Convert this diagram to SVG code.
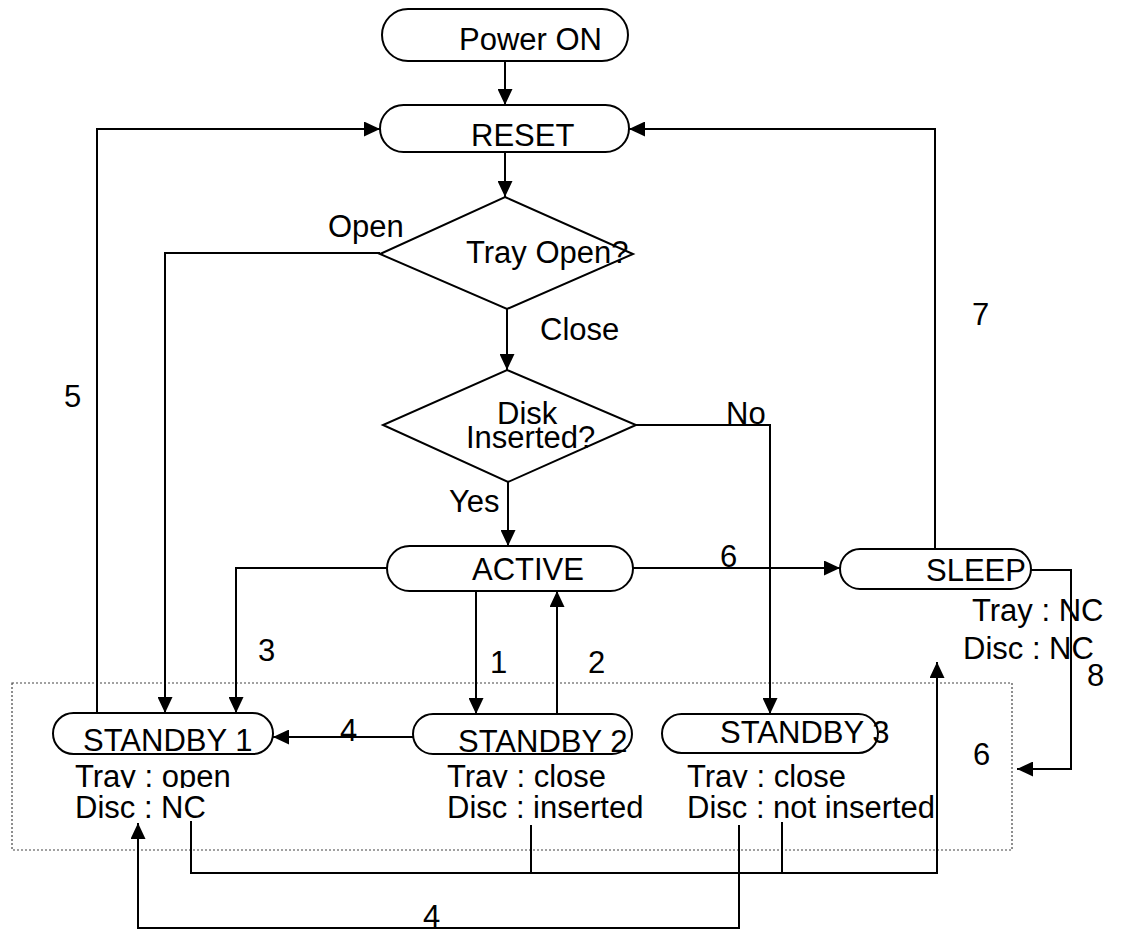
<svg xmlns="http://www.w3.org/2000/svg" width="1121" height="931" viewBox="0 0 1121 931">
<style>
.shape{fill:#fff;stroke:#000;stroke-width:2}
.c{fill:none;stroke:#000;stroke-width:2}
text{font-family:"Liberation Sans",Arial,sans-serif;font-size:31px;fill:#000}
.dot{fill:none;stroke:#444;stroke-width:1.2;stroke-dasharray:2,2}
</style>
<defs>
<marker id="ah" markerUnits="userSpaceOnUse" markerWidth="16" markerHeight="15" refX="16" refY="7.5" orient="auto">
<path d="M0,0 L16,7.5 L0,15 z" fill="#000"/>
</marker>
<clipPath id="cl"><rect x="0" y="0" width="1121" height="788"/></clipPath>
</defs>
<rect class="dot" x="12" y="683" width="1000" height="167"/>
<g id="connectors">
<path class="c" d="M505,61 V105" marker-end="url(#ah)"/>
<path class="c" d="M505,152 V197" marker-end="url(#ah)"/>
<path class="c" d="M380,253 H165 V713" marker-end="url(#ah)"/>
<path class="c" d="M507,309 V370" marker-end="url(#ah)"/>
<path class="c" d="M636,425 H770 V714" marker-end="url(#ah)"/>
<path class="c" d="M508,482 V546" marker-end="url(#ah)"/>
<path class="c" d="M387,568 H236 V713" marker-end="url(#ah)"/>
<path class="c" d="M633,568 H840" marker-end="url(#ah)"/>
<path class="c" d="M476,591 V714" marker-end="url(#ah)"/>
<path class="c" d="M557,714 V591" marker-end="url(#ah)"/>
<path class="c" d="M413,737 H273" marker-end="url(#ah)"/>
<path class="c" d="M97,713 V129 H380" marker-end="url(#ah)"/>
<path class="c" d="M935,549 V129 H629" marker-end="url(#ah)"/>
<path class="c" d="M1031,570 H1071 V769 H1017" marker-end="url(#ah)"/>
<path class="c" d="M191,821 V873 H937 V662" marker-end="url(#ah)"/>
<path class="c" d="M531,825 V873"/>
<path class="c" d="M782,822 V873"/>
<path class="c" d="M739,825 V928 H138 V823" marker-end="url(#ah)"/>
</g>
<g id="power-on">
<rect class="shape" x="382" y="9" width="246" height="52" rx="26"/>
<text x="459" y="50">Power ON</text>
</g>
<g id="reset">
<rect class="shape" x="380" y="105" width="249" height="47" rx="23.5"/>
<text x="471" y="146">RESET</text>
</g>
<g id="tray-open">
<polygon class="shape" points="505,197 633,254 507,309 380,254"/>
<text x="466" y="263">Tray Open?</text>
</g>
<g id="disk-inserted">
<polygon class="shape" points="507,370 636,425 508,482 383,425"/>
<text x="497" y="424">Disk</text>
<text x="466" y="448">Inserted?</text>
</g>
<g id="active">
<rect class="shape" x="387" y="546" width="246" height="45" rx="22.5"/>
<text x="472" y="580">ACTIVE</text>
</g>
<g id="sleep">
<rect class="shape" x="840" y="549" width="191" height="40" rx="20"/>
<text x="926" y="581">SLEEP</text>
<text x="972" y="621">Tray : NC</text>
<text x="963" y="659">Disc : NC</text>
</g>
<g id="standby1">
<rect class="shape" x="53" y="713" width="220" height="41" rx="20.5"/>
<text x="83" y="751">STANDBY 1</text>
<text x="75" y="787" clip-path="url(#cl)">Tray : open</text>
<text x="75" y="818">Disc : NC</text>
</g>
<g id="standby2">
<rect class="shape" x="413" y="714" width="219" height="40" rx="20"/>
<text x="458" y="752">STANDBY 2</text>
<text x="447" y="787" clip-path="url(#cl)">Tray : close</text>
<text x="447" y="818">Disc : inserted</text>
</g>
<g id="standby3">
<rect class="shape" x="662" y="714" width="216" height="39" rx="19.5"/>
<text x="720" y="743">STANDBY 3</text>
<text x="687" y="787" clip-path="url(#cl)">Tray : close</text>
<text x="687" y="818">Disc : not inserted</text>
</g>
<g id="labels">
<text x="328" y="237">Open</text>
<text x="540" y="340">Close</text>
<text x="726" y="424">No</text>
<text x="449" y="512">Yes</text>
<text x="720" y="567">6</text>
<text x="64" y="407">5</text>
<text x="972" y="325">7</text>
<text x="258" y="661">3</text>
<text x="490" y="673">1</text>
<text x="588" y="673">2</text>
<text x="340" y="741">4</text>
<text x="1087" y="686">8</text>
<text x="973" y="765">6</text>
<text x="423" y="927">4</text>
</g>
</svg>
